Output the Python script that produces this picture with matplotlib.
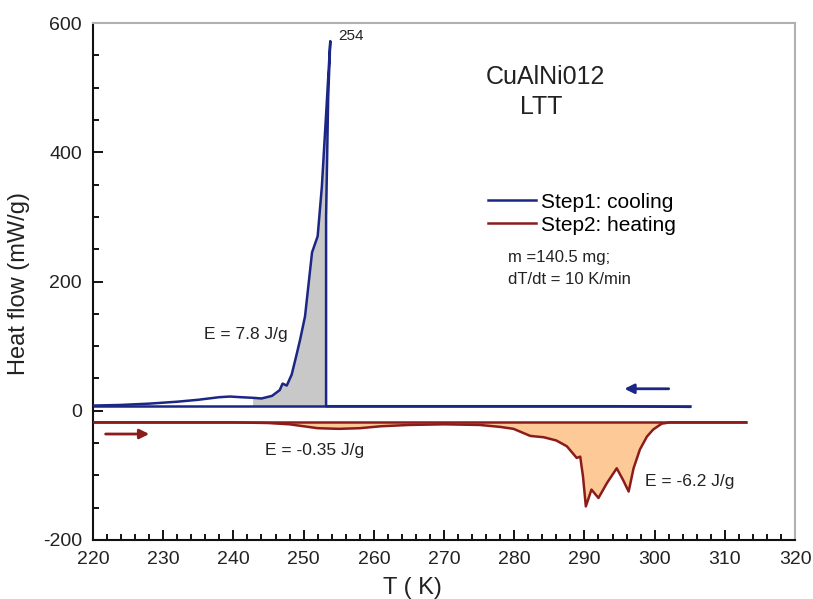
import numpy as np
import matplotlib
matplotlib.use("Agg")
import matplotlib.pyplot as plt
from matplotlib.ticker import MultipleLocator

plt.rcParams['font.family'] = ['Liberation Sans', 'DejaVu Sans']
plt.rcParams['axes.unicode_minus'] = False

# Step1: cooling (path in measuring order, 305 K -> 220 K)
cool_T = [305.0, 295.0, 285.0, 270.0, 260.0, 253.2, 253.2, 253.5, 253.8, 253.3, 252.6,
          252.0, 251.2, 250.2, 249.5, 249.0, 248.3, 247.6, 247.0, 246.6, 245.5, 244.0,
          242.8, 241.0, 239.5, 238.0, 235.0, 232.0, 228.0, 224.0, 220.0]
cool_y = [6, 7, 7, 7, 7, 7, 300, 485, 572, 477, 347,
          270, 245, 146, 110, 87, 56, 39, 42, 32, 23, 19,
          20, 21, 22, 21, 17, 14, 11, 9, 8]
cool_base = 7

# Step2: heating (220 K -> 313 K)
heat_T = [220, 240, 245, 248, 250, 252, 255, 258, 261, 265, 270, 275.1, 278, 279.9,
          282.3, 284.2, 286.0, 287.5, 288.9, 289.4, 289.8, 290.2, 291.0, 292.0, 293.2,
          294.6, 295.5, 296.3, 297.0, 297.9, 298.9, 299.8, 301.0, 302.2, 305, 313]
heat_y = [-18, -18, -19, -21, -24, -27, -28, -27, -24, -22, -21, -22, -25, -28,
          -39, -41, -46, -55, -73, -71, -102, -148, -122, -135, -112,
          -89, -107, -125, -89, -60, -40, -29, -20, -18, -18, -18]
heat_base = -18

blue = '#1c2685'
red = '#8c1c1c'

fig = plt.figure(figsize=(8.13, 5.99), dpi=100)
ax = fig.add_axes([0.1144, 0.0985, 0.8635, 0.8631])

# grey area under the exothermic peak
i0, i1 = 5, 23
poly_T = cool_T[i0:i1] + [cool_T[i1 - 1]]
poly_y = cool_y[i0:i1] + [cool_base]
ax.fill(poly_T, poly_y, color='#c8c8c8', lw=0, zorder=1)

# orange area of the heating curve
ax.fill_between(heat_T, heat_y, heat_base, color='#fdc996', lw=0, zorder=1)

ax.plot([min(cool_T), max(cool_T)], [cool_base, cool_base], color=blue, lw=1.8, zorder=2)
ax.plot(cool_T, cool_y, color=blue, lw=1.8, label='Step1: cooling', zorder=3)
ax.plot([min(heat_T), max(heat_T)], [heat_base, heat_base], color=red, lw=1.8, zorder=2)
ax.plot(heat_T, heat_y, color=red, lw=1.8, label='Step2: heating', zorder=3)

# direction arrows
ax.annotate('', xy=(295.3, 34), xytext=(302.4, 34),
            arrowprops=dict(arrowstyle='-|>', color=blue, lw=2, mutation_scale=14))
ax.annotate('', xy=(228.4, -36), xytext=(221.4, -36),
            arrowprops=dict(arrowstyle='-|>', color=red, lw=2, mutation_scale=14))

# texts
ax.text(254.9, 580, '254', fontsize=11, ha='left', va='center', color='#222222')
ax.text(284.5, 517, 'CuAlNi012', fontsize=18, ha='center', va='center', color='#222222')
ax.text(283.9, 470, 'LTT', fontsize=18, ha='center', va='center', color='#222222')
ax.text(279.1, 237, 'm =140.5 mg;', fontsize=12, ha='left', va='center', color='#222222')
ax.text(279.1, 203, 'dT/dt = 10 K/min', fontsize=12, ha='left', va='center', color='#222222')
ax.text(241.8, 118, 'E = 7.8 J/g', fontsize=12.5, ha='center', va='center', color='#222222')
ax.text(251.6, -62, 'E = -0.35 J/g', fontsize=12.5, ha='center', va='center', color='#222222')
ax.text(305.0, -109, 'E = -6.2 J/g', fontsize=12.5, ha='center', va='center', color='#222222')

ax.legend(loc='upper left', bbox_to_anchor=(0.563, 0.672), frameon=False, fontsize=15,
          handlelength=2.3, handletextpad=0.25, labelspacing=0.2, borderpad=0,
          borderaxespad=0)

ax.set_xlim(220, 320)
ax.set_ylim(-200, 600)
ax.xaxis.set_major_locator(MultipleLocator(10))
ax.xaxis.set_minor_locator(MultipleLocator(2))
ax.yaxis.set_major_locator(MultipleLocator(200))
ax.yaxis.set_minor_locator(MultipleLocator(50))
ax.tick_params(which='both', direction='in', top=False, right=False,
               labelsize=14, labelcolor='#222222', width=1.3)
ax.tick_params(which='major', length=7, pad=8)
ax.tick_params(which='minor', length=4)

for s in ['left', 'bottom']:
    ax.spines[s].set_linewidth(1.5)
    ax.spines[s].set_color('#111111')
for s in ['top', 'right']:
    ax.spines[s].set_linewidth(1.5)
    ax.spines[s].set_color('#b0b0b0')

ax.set_xlabel('T ( K)', fontsize=17, color='#222222')
ax.xaxis.set_label_coords(0.455, -0.072)
ax.set_ylabel('Heat flow (mW/g)', fontsize=17, color='#222222')
ax.yaxis.set_label_coords(-0.09, 0.497)

fig.savefig('out.png', dpi=100)
